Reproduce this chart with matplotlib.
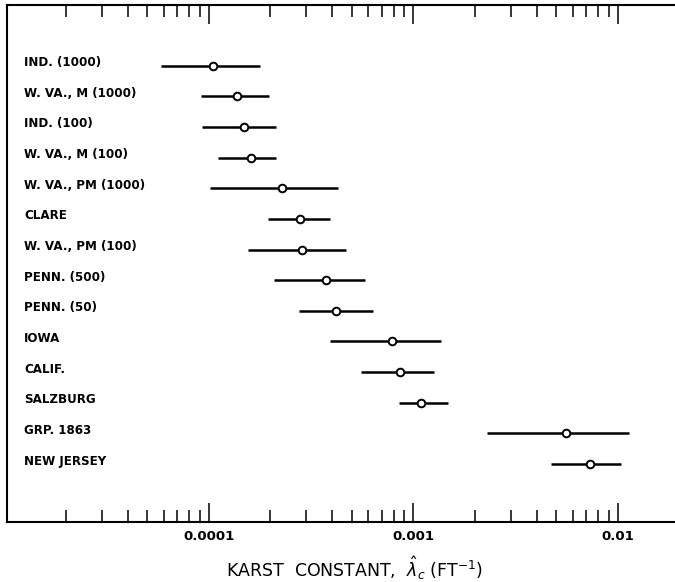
import numpy as np
import matplotlib
matplotlib.use('Agg')
import matplotlib.pyplot as plt
from matplotlib.ticker import LogLocator, FixedLocator, FixedFormatter, NullFormatter
import matplotlib.transforms as mtransforms

# Karst constant estimates (ft^-1): best value and range for each site
sites = ['IND. (1000)', 'W. VA., M (1000)', 'IND. (100)', 'W. VA., M (100)',
         'W. VA., PM (1000)', 'CLARE', 'W. VA., PM (100)', 'PENN. (500)',
         'PENN. (50)', 'IOWA', 'CALIF.', 'SALZBURG', 'GRP. 1863', 'NEW JERSEY']
k_best = [1.05e-4, 1.37e-4, 1.48e-4, 1.61e-4, 2.27e-4, 2.79e-4, 2.86e-4,
          3.73e-4, 4.16e-4, 7.84e-4, 8.61e-4, 1.09e-3, 5.6e-3, 7.33e-3]
k_low = [5.86e-5, 9.17e-5, 9.28e-5, 1.106e-4, 1.01e-4, 1.94e-4, 1.55e-4,
         2.09e-4, 2.76e-4, 3.93e-4, 5.56e-4, 8.49e-4, 2.28e-3, 4.69e-3]
k_high = [1.77e-4, 1.96e-4, 2.12e-4, 2.12e-4, 4.29e-4, 3.93e-4, 4.67e-4,
          5.78e-4, 6.36e-4, 1.36e-3, 1.26e-3, 1.47e-3, 1.13e-2, 1.04e-2]
major_ticks = [1e-4, 1e-3, 1e-2]
major_labels = ['0.0001', '0.001', '0.01']

W, H = 675, 582
fig = plt.figure(figsize=(W / 100, H / 100), dpi=100)
ax = fig.add_axes([7 / W, (H - 522) / H, (W - 7) / W, (522 - 5) / H])

rows = np.arange(len(sites))
ax.hlines(rows, k_low, k_high, color='black', lw=1.8)
ax.plot(k_best, rows, 'o', ms=5.5, mfc='white', mec='black', mew=1.4)

# site names inside the frame
trans = mtransforms.blended_transform_factory(ax.transAxes, ax.transData)
for i, name in enumerate(sites):
    ax.text(0.0254, i - 0.1, name, transform=trans, ha='left', va='center',
            fontsize=8.6, fontweight='bold', color='black')

ax.set_xscale('log')
ax.set_xlim(1.03e-5, 1.9e-2)
ax.set_ylim(14.89, -1.98)

ax.xaxis.set_major_locator(FixedLocator(major_ticks))
ax.xaxis.set_major_formatter(FixedFormatter(major_labels))
ax.xaxis.set_minor_locator(LogLocator(base=10, subs=np.arange(2, 10)))
ax.xaxis.set_minor_formatter(NullFormatter())
ax.tick_params(axis='x', which='both', direction='in', top=True, bottom=True,
               width=1.1, color='black', labelsize=9.5, pad=6)
ax.tick_params(axis='x', which='major', length=14)
ax.tick_params(axis='x', which='minor', length=8.6)
for lab in ax.get_xticklabels():
    lab.set_fontweight('bold')
ax.set_yticks([])

for s in ['top', 'bottom', 'left']:
    ax.spines[s].set_linewidth(1.5)
ax.spines['right'].set_visible(False)

fig.text(354.5 / W, 1 - 577 / H,
         r'KARST  CONSTANT,  $\hat{\lambda}_c$ (FT$^{-1}$)',
         ha='center', va='baseline', fontsize=12.5)

plt.savefig('out.png', dpi=100)
